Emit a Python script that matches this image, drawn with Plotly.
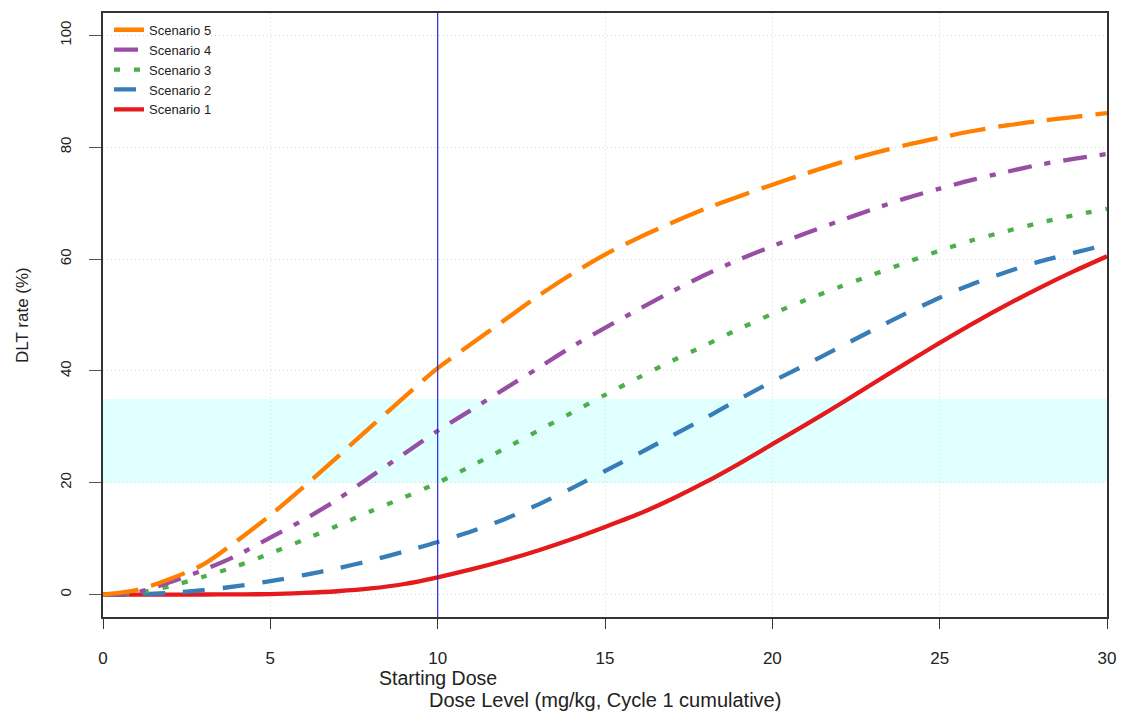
import plotly.graph_objects as go

dose = list(range(0, 31))

scenario_1 = [0, 0, 0, 0.02, 0.05, 0.1, 0.3, 0.6, 1.1, 1.9, 3.1, 4.5, 6.1, 7.9, 9.9, 12.1,
              14.4, 17.1, 20.1, 23.4, 26.9, 30.4, 34.0, 37.7, 41.4, 45.0, 48.5, 51.8, 54.9, 57.8, 60.5]
scenario_2 = [0, 0.05, 0.3, 0.8, 1.5, 2.4, 3.5, 4.7, 6.1, 7.7, 9.4, 11.3, 13.5, 16.1, 19.0, 22.1,
              25.2, 28.4, 31.6, 34.9, 38.1, 41.1, 44.2, 47.3, 50.3, 53.1, 55.6, 57.7, 59.6, 61.1, 62.6]
scenario_3 = [0, 0.3, 1.5, 3.2, 5.1, 7.4, 9.8, 12.3, 14.9, 17.4, 20.0, 23.0, 26.1, 29.3, 32.5, 35.7,
              38.8, 41.8, 44.6, 47.5, 50.2, 52.7, 55.0, 57.2, 59.4, 61.5, 63.4, 65.0, 66.5, 67.8, 69.0]
scenario_4 = [0, 0.4, 2.2, 4.4, 7.0, 10.2, 13.4, 17.0, 21.1, 25.2, 29.3, 33.0, 36.8, 40.5, 44.3, 47.7,
              51.0, 54.2, 57.2, 59.9, 62.3, 64.6, 66.8, 68.9, 70.9, 72.6, 74.2, 75.6, 76.9, 77.9, 78.8]
scenario_5 = [0, 0.8, 2.8, 5.4, 9.6, 14.2, 19.3, 24.6, 30.0, 35.3, 40.5, 44.8, 49.1, 53.4, 57.3, 60.8,
              63.8, 66.5, 69.0, 71.2, 73.3, 75.3, 77.2, 78.9, 80.4, 81.7, 82.9, 83.9, 84.7, 85.4, 86.1]

names = ["Scenario 1", "Scenario 2", "Scenario 3", "Scenario 4", "Scenario 5"]
series = [scenario_1, scenario_2, scenario_3, scenario_4, scenario_5]
colors = ["#E41A1C", "#377EB8", "#4DAF4A", "#984EA3", "#FF7F00"]
dashes = ["solid", "22px,18px", "6px,14px", "24px,13px,6px,13px", "36px,13px"]

target_low, target_high = 20, 35
starting_dose = 10
x_ticks = [0, 5, 10, 15, 20, 25, 30]
y_ticks = [0, 20, 40, 60, 80, 100]

FONT = "Liberation Sans, Arial, sans-serif"

fig = go.Figure()
for name, ys, c, d in zip(names, series, colors, dashes):
    fig.add_trace(go.Scatter(
        x=dose, y=ys, mode="lines", name=name,
        line=dict(color=c, width=4.3, dash=d, shape="spline", smoothing=0.8),
    ))

fig.add_shape(type="rect", xref="paper", yref="y", x0=0, x1=1,
              y0=target_low, y1=target_high, fillcolor="#E0FFFF",
              line=dict(width=0), layer="below")
fig.add_shape(type="line", xref="x", yref="paper", x0=starting_dose, x1=starting_dose,
              y0=0, y1=1, line=dict(color="#2a2ad0", width=1.2), layer="above")

fig.add_annotation(text="Starting Dose", xref="x", yref="paper", x=starting_dose,
                   y=-0.101, showarrow=False, xanchor="center", yanchor="middle",
                   font=dict(family=FONT, size=19.5, color="#222"))
fig.add_annotation(text="Dose Level (mg/kg, Cycle 1 cumulative)", xref="paper", yref="paper",
                   x=0.5, y=-0.137, showarrow=False, xanchor="center", yanchor="middle",
                   font=dict(family=FONT, size=20, color="#222"))
fig.add_annotation(text="DLT rate (%)", xref="paper", yref="paper", x=-0.0807, y=0.5,
                   textangle=-90, showarrow=False, xanchor="center", yanchor="middle",
                   font=dict(family=FONT, size=17, color="#222"))

fig.update_layout(
    width=1123, height=713,
    margin=dict(l=103, r=16, t=13, b=96, autoexpand=False),
    paper_bgcolor="white", plot_bgcolor="white",
    font=dict(family=FONT, color="#222"),
    showlegend=True,
    legend=dict(x=0.006, y=0.997, xanchor="left", yanchor="top", traceorder="reversed",
                bgcolor="rgba(0,0,0,0)", font=dict(size=13, family=FONT, color="#222"),
                itemwidth=30, tracegroupgap=0),
    xaxis=dict(range=[0, 30], tickvals=x_ticks, ticks="outside", ticklen=10,
               tickcolor="#333", showline=True, linecolor="#333", linewidth=1.5, mirror=True,
               showgrid=True, gridcolor="#d8d8d8", griddash="1px,3px", gridwidth=1,
               zeroline=False, tickfont=dict(size=17, family=FONT, color="#222"),
               ticklabelstandoff=15, automargin=False),
    yaxis=dict(range=[-4, 104], tickvals=y_ticks, ticks="outside", ticklen=12,
               tickcolor="#555", showline=True, linecolor="#333", linewidth=1.5, mirror=True,
               showgrid=True, gridcolor="#d8d8d8", griddash="1px,3px", gridwidth=1,
               zeroline=False, tickangle=-90, tickfont=dict(size=15, family=FONT, color="#222"),
               ticklabelstandoff=12, automargin=False),
)

fig.write_html("out.html")
